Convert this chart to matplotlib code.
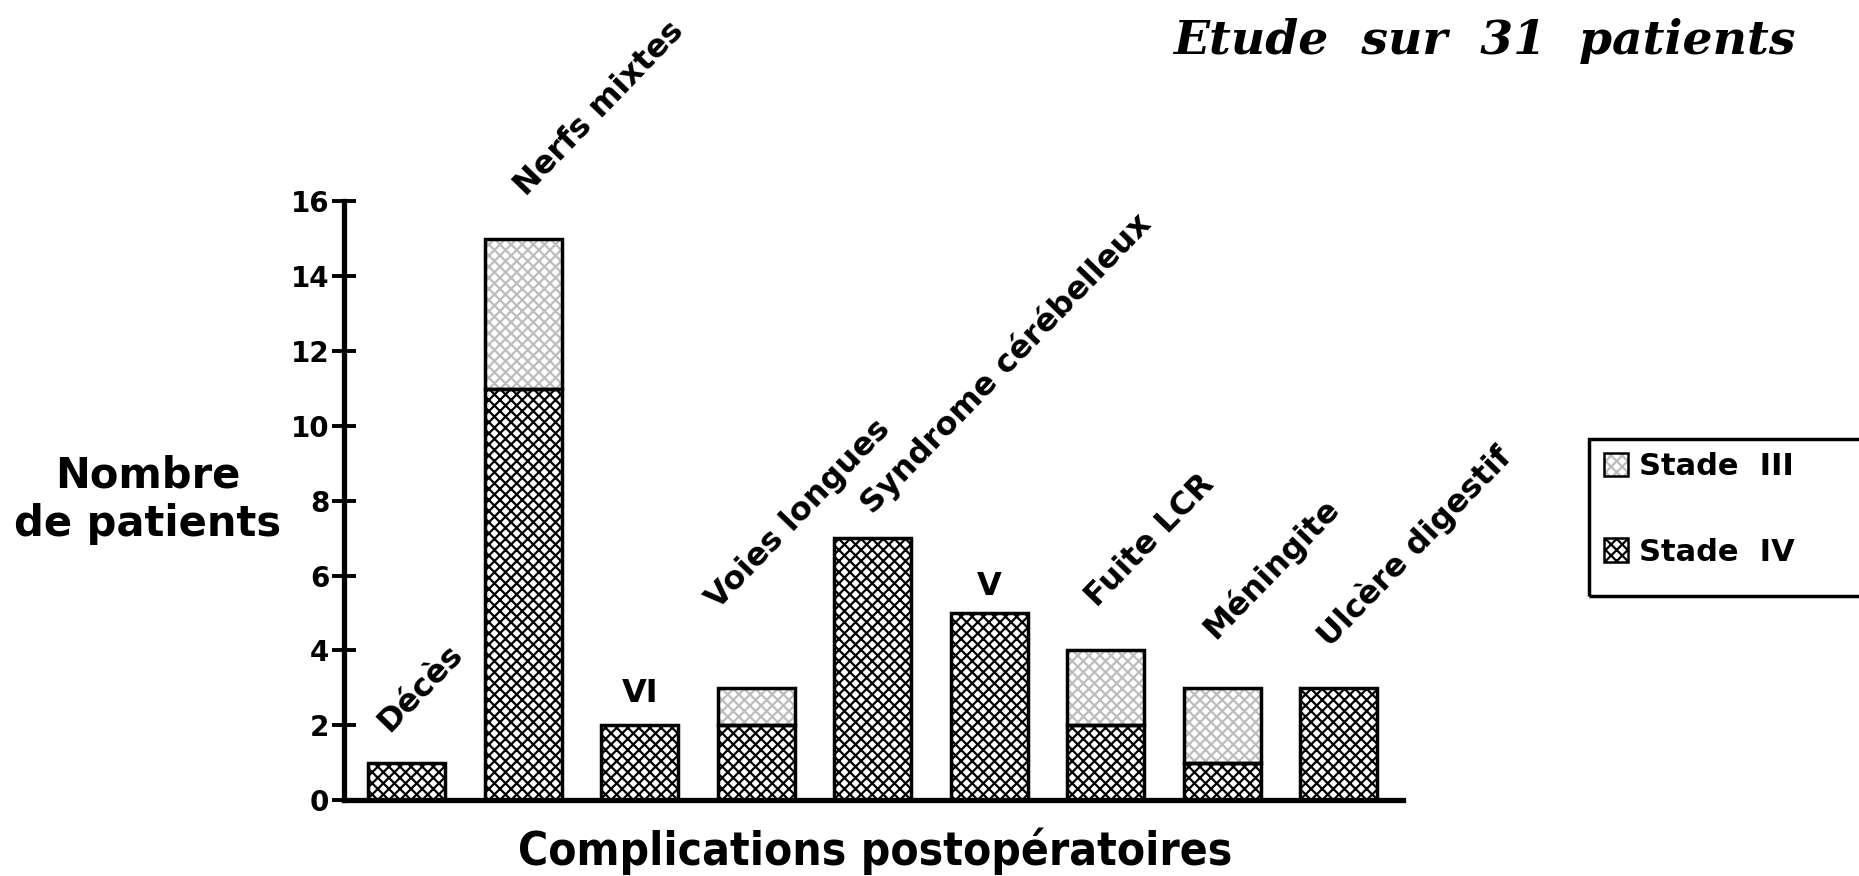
import matplotlib
matplotlib.use("Agg")
import matplotlib.pyplot as plt
from matplotlib.patches import Patch, Rectangle

# Complications postopératoires, 31 patients
complications = ["Décès", "Nerfs mixtes", "VI", "Voies longues",
                 "Syndrome cérébelleux", "V", "Fuite LCR", "Méningite",
                 "Ulcère digestif"]
stade_iv = [1, 11, 2, 2, 7, 5, 2, 1, 3]
stade_iii = [0, 4, 0, 1, 0, 0, 2, 2, 0]
yticks = [0, 2, 4, 6, 8, 10, 12, 14, 16]

# decalage (dx, dy) du debut de chaque etiquette par rapport au sommet de la barre
decal = {
    "Décès": (-0.15, 0.79),
    "Nerfs mixtes": (0.02, 1.12),
    "VI": (0.0, 0.62),
    "Voies longues": (-0.33, 2.08),
    "Syndrome cérébelleux": (0.0, 0.62),
    "V": (0.0, 0.48),
    "Fuite LCR": (-0.08, 1.13),
    "Méningite": (-0.06, 1.28),
    "Ulcère digestif": (-0.08, 1.06),
}
horizontales = {"VI", "V"}

plt.rcParams["hatch.linewidth"] = 1.6
sans = ["DejaVu Sans"]
gris = "#bdbdbd"

fig = plt.figure(figsize=(18.59, 8.76), dpi=100)
ax = fig.add_axes([0.185, 0.0868, 0.5697, 0.6832])

x = list(range(len(complications)))
largeur = 0.66

# remplissage hachure puis contour noir epais
ax.bar(x, stade_iv, largeur, color="white", hatch="xxx", edgecolor="black", linewidth=0)
ax.bar(x, stade_iii, largeur, bottom=stade_iv, color="white", hatch="xxx",
       edgecolor=gris, linewidth=0)
ax.bar(x, stade_iv, largeur, fill=False, edgecolor="black", linewidth=2.5)
ax.bar(x, stade_iii, largeur, bottom=stade_iv, fill=False, edgecolor="black",
       linewidth=[2.5 if v > 0 else 0 for v in stade_iii])

for i, nom in enumerate(complications):
    total = stade_iv[i] + stade_iii[i]
    dx, dy = decal[nom]
    if nom in horizontales:
        ax.text(i + dx, total + dy, nom, ha="center", va="baseline",
                fontsize=23, fontweight="bold", family=sans)
    else:
        ax.text(i + dx, total + dy, nom, ha="left", va="baseline",
                rotation=46, rotation_mode="anchor",
                fontsize=23, fontweight="bold", family=sans)

ax.set_xlim(-0.54, 8.55)
ax.set_ylim(0, 16)
ax.set_yticks(yticks)
ax.set_xticks([])
for s in ["top", "right"]:
    ax.spines[s].set_visible(False)
ax.spines["left"].set_linewidth(3.8)
ax.spines["bottom"].set_linewidth(3.8)
ax.tick_params(axis="y", direction="inout", length=17, width=2.8, pad=2,
               labelsize=20)
for lab in ax.get_yticklabels():
    lab.set_fontweight("bold")

fig.text(148 / 1859, 1 - 500 / 876, "Nombre\nde patients", ha="center", va="center",
         fontsize=30, fontweight="bold", family=sans, linespacing=1.2)
fig.text(875 / 1859, 1 - 851 / 876, "Complications postopératoires", ha="center",
         va="center", fontsize=33, fontweight="bold", fontstretch="condensed",
         family=sans)
fig.text(1796 / 1859, 1 - 41 / 876, "Etude  sur  31  patients", ha="right",
         va="center", fontsize=34, fontweight="bold", style="italic",
         family=["DejaVu Serif"])

# legende dans un cadre qui deborde a droite
fig.patches.append(Rectangle((1589 / 1859, 1 - 596 / 876), 0.2, 157 / 876,
                             transform=fig.transFigure, fill=False,
                             edgecolor="black", linewidth=2.5))
poignees = [
    (Patch(facecolor="white", hatch="xxx", edgecolor=gris, linewidth=0),
     Patch(fill=False, edgecolor="black", linewidth=1.8)),
    (Patch(facecolor="white", hatch="xxx", edgecolor="black", linewidth=0),
     Patch(fill=False, edgecolor="black", linewidth=1.8)),
]
leg = fig.legend(poignees, ["Stade  III", "Stade  IV"], loc="upper left",
                 bbox_to_anchor=(1604 / 1859, 1 - 452 / 876), frameon=False,
                 borderpad=0, borderaxespad=0, handlelength=0.8, handleheight=0.8,
                 handletextpad=0.35, labelspacing=1.85,
                 prop={"family": sans, "weight": "bold", "size": 22})

fig.savefig("out.png", dpi=100)
